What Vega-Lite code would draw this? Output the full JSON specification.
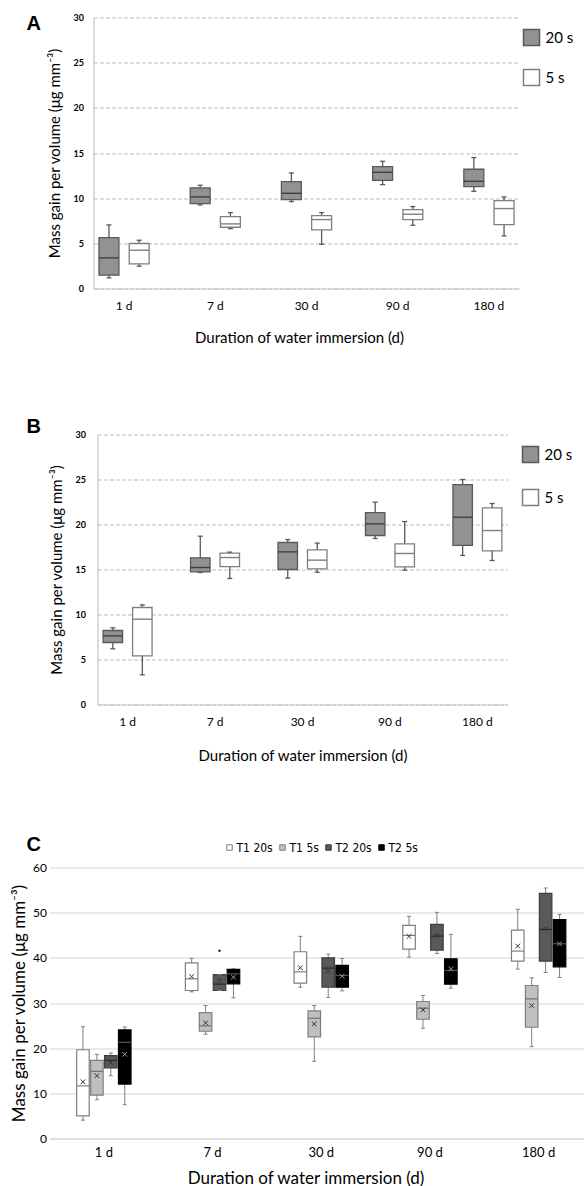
{
  "$schema": "https://vega.github.io/schema/vega-lite/v6.json",
  "background": "white",
  "padding": {"left": 10.5, "top": 13.5, "right": 0, "bottom": 0},
  "config": {
    "view": {"stroke": null},
    "font": "Lato",
    "axis": {"labelColor": "#000000", "titleColor": "#000000", "labelFont": "Lato", "titleFont": "Lato", "titleFontWeight": "normal"},
    "legend": {"labelColor": "#000000", "labelFont": "Lato"}
  },
  "resolve": {
    "scale": {"x": "independent", "y": "independent", "xOffset": "independent", "fill": "independent", "stroke": "independent", "color": "independent"},
    "legend": {"fill": "independent"},
    "axis": {"x": "independent", "y": "independent"}
  },
  "datasets": {
    "A": [
      {"day": "1 d", "group": "20 s", "min": 1.18, "q1": 1.47, "median": 3.39, "q3": 5.64, "max": 7.04},
      {"day": "7 d", "group": "20 s", "min": 9.25, "q1": 9.40, "median": 10.14, "q3": 11.13, "max": 11.43},
      {"day": "30 d", "group": "20 s", "min": 9.62, "q1": 9.84, "median": 10.54, "q3": 11.83, "max": 12.79},
      {"day": "90 d", "group": "20 s", "min": 11.5, "q1": 11.98, "median": 12.86, "q3": 13.49, "max": 14.08},
      {"day": "180 d", "group": "20 s", "min": 10.76, "q1": 11.28, "median": 11.87, "q3": 13.2, "max": 14.49},
      {"day": "1 d", "group": "5 s", "min": 2.47, "q1": 2.73, "median": 4.24, "q3": 4.98, "max": 5.34},
      {"day": "7 d", "group": "5 s", "min": 6.63, "q1": 6.78, "median": 7.15, "q3": 7.96, "max": 8.40},
      {"day": "30 d", "group": "5 s", "min": 4.90, "q1": 6.49, "median": 7.63, "q3": 8.07, "max": 8.40},
      {"day": "90 d", "group": "5 s", "min": 7.0, "q1": 7.63, "median": 8.22, "q3": 8.74, "max": 9.07},
      {"day": "180 d", "group": "5 s", "min": 5.82, "q1": 7.08, "median": 8.85, "q3": 9.73, "max": 10.14}
    ],
    "B": [
      {"day": "1 d", "group": "20 s", "min": 6.19, "q1": 6.89, "median": 7.63, "q3": 8.22, "max": 8.52},
      {"day": "7 d", "group": "20 s", "min": 14.67, "q1": 14.74, "median": 15.22, "q3": 16.3, "max": 18.7},
      {"day": "30 d", "group": "20 s", "min": 14.04, "q1": 15.0, "median": 16.96, "q3": 18.0, "max": 18.33},
      {"day": "90 d", "group": "20 s", "min": 18.44, "q1": 18.78, "median": 20.07, "q3": 21.33, "max": 22.48},
      {"day": "180 d", "group": "20 s", "min": 16.56, "q1": 17.67, "median": 20.81, "q3": 24.44, "max": 25.0},
      {"day": "1 d", "group": "5 s", "min": 3.30, "q1": 5.41, "median": 9.48, "q3": 10.78, "max": 11.07},
      {"day": "7 d", "group": "5 s", "min": 14.0, "q1": 15.33, "median": 16.33, "q3": 16.81, "max": 16.93},
      {"day": "30 d", "group": "5 s", "min": 14.7, "q1": 15.07, "median": 16.04, "q3": 17.19, "max": 17.93},
      {"day": "90 d", "group": "5 s", "min": 14.93, "q1": 15.3, "median": 16.78, "q3": 17.85, "max": 20.33},
      {"day": "180 d", "group": "5 s", "min": 16.0, "q1": 17.07, "median": 19.33, "q3": 21.85, "max": 22.33}
    ],
    "C": [
      {"day": "1 d", "group": "T1 20s", "min": 4.07, "q1": 5.0, "median": 11.65, "q3": 19.65, "max": 24.75, "mean": 12.55},
      {"day": "1 d", "group": "T1 5s", "min": 8.58, "q1": 9.62, "median": 14.87, "q3": 17.31, "max": 18.64, "mean": 13.9},
      {"day": "1 d", "group": "T2 20s", "min": 13.9, "q1": 15.61, "median": 17.31, "q3": 18.34, "max": 18.93, "mean": 16.86},
      {"day": "1 d", "group": "T2 5s", "min": 7.47, "q1": 12.06, "median": 21.3, "q3": 24.04, "max": 24.7, "mean": 18.64},
      {"day": "7 d", "group": "T1 20s", "min": 32.47, "q1": 32.77, "median": 35.36, "q3": 38.9, "max": 39.87, "mean": 35.87},
      {"day": "7 d", "group": "T1 5s", "min": 23.08, "q1": 23.74, "median": 24.93, "q3": 27.88, "max": 29.44, "mean": 25.6},
      {"day": "7 d", "group": "T2 20s", "min": 32.77, "q1": 32.77, "median": 34.17, "q3": 36.3, "max": 36.3, "mean": 34.99},
      {"day": "7 d", "group": "T2 5s", "min": 31.14, "q1": 34.25, "median": 36.46, "q3": 37.43, "max": 37.65, "mean": 35.72},
      {"day": "30 d", "group": "T1 20s", "min": 33.5, "q1": 34.39, "median": 36.9, "q3": 41.35, "max": 44.75, "mean": 37.8},
      {"day": "30 d", "group": "T1 5s", "min": 17.09, "q1": 22.49, "median": 26.63, "q3": 28.25, "max": 29.44, "mean": 25.37},
      {"day": "30 d", "group": "T2 20s", "min": 31.21, "q1": 33.5, "median": 37.72, "q3": 40.0, "max": 40.83, "mean": 36.98},
      {"day": "30 d", "group": "T2 5s", "min": 32.69, "q1": 33.5, "median": 36.1, "q3": 38.31, "max": 39.87, "mean": 35.95},
      {"day": "90 d", "group": "T1 20s", "min": 40.16, "q1": 41.94, "median": 44.97, "q3": 47.19, "max": 49.19, "mean": 44.75},
      {"day": "90 d", "group": "T1 5s", "min": 24.41, "q1": 26.4, "median": 28.85, "q3": 30.33, "max": 31.66, "mean": 28.48},
      {"day": "90 d", "group": "T2 20s", "min": 40.98, "q1": 41.72, "median": 44.82, "q3": 47.41, "max": 50.07, "mean": 44.97},
      {"day": "90 d", "group": "T2 5s", "min": 33.28, "q1": 34.17, "median": 37.2, "q3": 39.79, "max": 45.19, "mean": 37.57},
      {"day": "180 d", "group": "T1 20s", "min": 37.5, "q1": 39.28, "median": 41.5, "q3": 46.15, "max": 50.74, "mean": 42.6},
      {"day": "180 d", "group": "T1 5s", "min": 20.34, "q1": 24.63, "median": 30.92, "q3": 33.88, "max": 35.58, "mean": 29.44},
      {"day": "180 d", "group": "T2 20s", "min": 36.76, "q1": 39.28, "median": 46.3, "q3": 54.29, "max": 55.47, "mean": 46.45},
      {"day": "180 d", "group": "T2 5s", "min": 35.65, "q1": 38.02, "median": 43.12, "q3": 48.45, "max": 49.63, "mean": 43.12}
    ],
    "Cout": [
      {"day": "7 d", "group": "T2 20s", "value": 41.57}
    ]
  },
  "vconcat": [
    {
      "width": 470,
      "height": 271,
      "title": {"text": "A", "anchor": "start", "frame": "group", "dx": -23, "dy": 36, "offset": 0, "baseline": "alphabetic", "font": "Liberation Sans", "fontSize": 20, "fontWeight": "bold", "color": "#000000"},
      "data": {"name": "A"},
      "encoding": {
        "x": {"field": "day", "type": "nominal", "sort": ["1 d", "7 d", "30 d", "90 d", "180 d"], "scale": {"range": [44, 470], "paddingInner": 0.45, "paddingOuter": 0.06}, "title": "Duration of water immersion (d)",
          "axis": {"labelAngle": 0, "ticks": false, "domainColor": "#c4c4c4", "domainWidth": 1.2, "labelFontSize": 12, "labelPadding": 12, "titleFontSize": 15, "titlePadding": 19, "titleX": 249.5}},
        "xOffset": {"field": "group", "type": "nominal", "sort": ["20 s", "5 s"], "scale": {"paddingInner": 0.34, "paddingOuter": 0}}
      },
      "layer": [
        {"mark": {"type": "rule", "color": "#595959", "strokeWidth": 1.3},
          "encoding": {
            "y": {"field": "min", "type": "quantitative", "scale": {"domain": [0, 30], "nice": false}, "title": "Mass gain per volume (μg mm⁻³)",
              "axis": {"offset": -44, "values": [0, 5, 10, 15, 20, 25, 30], "grid": true, "gridDash": [4, 2], "gridColor": "#bdbdbd", "domainColor": "#c4c4c4", "domainWidth": 1.2, "ticks": false, "labelFontSize": 9, "labelFontWeight": "bold", "labelPadding": 10, "titleFontSize": 15, "titlePadding": 11}},
            "y2": {"field": "max"}}},
        {"mark": {"type": "bar", "strokeWidth": 1.3, "opacity": 1},
          "encoding": {
            "y": {"field": "q1", "type": "quantitative", "title": "Mass gain per volume (μg mm⁻³)",
              "axis": {"offset": -44, "values": [0, 5, 10, 15, 20, 25, 30], "grid": true, "gridDash": [4, 2], "gridColor": "#bdbdbd", "domainColor": "#c4c4c4", "domainWidth": 1.2, "ticks": false, "labelFontSize": 9, "labelFontWeight": "bold", "labelPadding": 10, "titleFontSize": 15, "titlePadding": 11}},
            "y2": {"field": "q3"},
            "fill": {"field": "group", "type": "nominal", "scale": {"domain": ["20 s", "5 s"], "range": ["#929292", "#ffffff"]},
              "legend": {"orient": "none", "legendX": 473, "legendY": 11, "title": null, "symbolType": "square", "symbolSize": 256, "symbolStrokeColor": "#595959", "symbolStrokeWidth": 1.5, "labelFontSize": 15, "rowPadding": 18, "labelOffset": 5}},
            "stroke": {"field": "group", "type": "nominal", "scale": {"domain": ["20 s", "5 s"], "range": ["#595959", "#7f7f7f"]}, "legend": null}}},
        {"mark": {"type": "tick", "size": 20, "thickness": 1.4, "opacity": 1},
          "encoding": {
            "y": {"field": "median", "type": "quantitative", "title": "Mass gain per volume (μg mm⁻³)",
              "axis": {"offset": -44, "values": [0, 5, 10, 15, 20, 25, 30], "grid": true, "gridDash": [4, 2], "gridColor": "#bdbdbd", "domainColor": "#c4c4c4", "domainWidth": 1.2, "ticks": false, "labelFontSize": 9, "labelFontWeight": "bold", "labelPadding": 10, "titleFontSize": 15, "titlePadding": 11}},
            "color": {"field": "group", "type": "nominal", "scale": {"domain": ["20 s", "5 s"], "range": ["#404040", "#808080"]}, "legend": null}}},
        {"mark": {"type": "tick", "size": 5, "thickness": 1.3, "opacity": 1, "color": "#595959"},
          "encoding": {"y": {"field": "min", "type": "quantitative", "title": "Mass gain per volume (μg mm⁻³)",
              "axis": {"offset": -44, "values": [0, 5, 10, 15, 20, 25, 30], "grid": true, "gridDash": [4, 2], "gridColor": "#bdbdbd", "domainColor": "#c4c4c4", "domainWidth": 1.2, "ticks": false, "labelFontSize": 9, "labelFontWeight": "bold", "labelPadding": 10, "titleFontSize": 15, "titlePadding": 11}}}},
        {"mark": {"type": "tick", "size": 5, "thickness": 1.3, "opacity": 1, "color": "#595959"},
          "encoding": {"y": {"field": "max", "type": "quantitative", "title": "Mass gain per volume (μg mm⁻³)",
              "axis": {"offset": -44, "values": [0, 5, 10, 15, 20, 25, 30], "grid": true, "gridDash": [4, 2], "gridColor": "#bdbdbd", "domainColor": "#c4c4c4", "domainWidth": 1.2, "ticks": false, "labelFontSize": 9, "labelFontWeight": "bold", "labelPadding": 10, "titleFontSize": 15, "titlePadding": 11}}}}
      ]
    },
    {
      "width": 458,
      "height": 270,
      "title": {"text": "B", "anchor": "start", "frame": "group", "dx": -23, "dy": 22, "offset": 0, "baseline": "alphabetic", "font": "Liberation Sans", "fontSize": 20, "fontWeight": "bold", "color": "#000000"},
      "data": {"name": "B"},
      "encoding": {
        "x": {"field": "day", "type": "nominal", "sort": ["1 d", "7 d", "30 d", "90 d", "180 d"], "scale": {"range": [48, 458], "paddingInner": 0.44, "paddingOuter": 0.064}, "title": "Duration of water immersion (d)",
          "axis": {"labelAngle": 0, "ticks": false, "domainColor": "#c4c4c4", "domainWidth": 1.2, "labelFontSize": 12, "labelPadding": 12, "titleFontSize": 15, "titlePadding": 21}},
        "xOffset": {"field": "group", "type": "nominal", "sort": ["20 s", "5 s"], "scale": {"paddingInner": 0.34, "paddingOuter": 0}}
      },
      "layer": [
        {"mark": {"type": "rule", "color": "#595959", "strokeWidth": 1.3},
          "encoding": {
            "y": {"field": "min", "type": "quantitative", "scale": {"domain": [0, 30], "nice": false}, "title": "Mass gain per volume (μg mm⁻³)",
              "axis": {"offset": -48, "values": [0, 5, 10, 15, 20, 25, 30], "grid": true, "gridDash": [4, 2], "gridColor": "#bdbdbd", "domainColor": "#c4c4c4", "domainWidth": 1.2, "ticks": false, "labelFontSize": 9, "labelFontWeight": "bold", "labelPadding": 12, "titleFontSize": 15, "titlePadding": 11}},
            "y2": {"field": "max"}}},
        {"mark": {"type": "bar", "strokeWidth": 1.3, "opacity": 1},
          "encoding": {
            "y": {"field": "q1", "type": "quantitative", "title": "Mass gain per volume (μg mm⁻³)",
              "axis": {"offset": -48, "values": [0, 5, 10, 15, 20, 25, 30], "grid": true, "gridDash": [4, 2], "gridColor": "#bdbdbd", "domainColor": "#c4c4c4", "domainWidth": 1.2, "ticks": false, "labelFontSize": 9, "labelFontWeight": "bold", "labelPadding": 12, "titleFontSize": 15, "titlePadding": 11}},
            "y2": {"field": "q3"},
            "fill": {"field": "group", "type": "nominal", "scale": {"domain": ["20 s", "5 s"], "range": ["#929292", "#ffffff"]},
              "legend": {"orient": "none", "legendX": 472, "legendY": 11, "title": null, "symbolType": "square", "symbolSize": 256, "symbolStrokeColor": "#595959", "symbolStrokeWidth": 1.5, "labelFontSize": 15, "rowPadding": 21, "labelOffset": 5}},
            "stroke": {"field": "group", "type": "nominal", "scale": {"domain": ["20 s", "5 s"], "range": ["#595959", "#7f7f7f"]}, "legend": null}}},
        {"mark": {"type": "tick", "size": 19.5, "thickness": 1.4, "opacity": 1},
          "encoding": {
            "y": {"field": "median", "type": "quantitative", "title": "Mass gain per volume (μg mm⁻³)",
              "axis": {"offset": -48, "values": [0, 5, 10, 15, 20, 25, 30], "grid": true, "gridDash": [4, 2], "gridColor": "#bdbdbd", "domainColor": "#c4c4c4", "domainWidth": 1.2, "ticks": false, "labelFontSize": 9, "labelFontWeight": "bold", "labelPadding": 12, "titleFontSize": 15, "titlePadding": 11}},
            "color": {"field": "group", "type": "nominal", "scale": {"domain": ["20 s", "5 s"], "range": ["#404040", "#808080"]}, "legend": null}}},
        {"mark": {"type": "tick", "size": 5, "thickness": 1.3, "opacity": 1, "color": "#595959"},
          "encoding": {"y": {"field": "min", "type": "quantitative", "title": "Mass gain per volume (μg mm⁻³)",
              "axis": {"offset": -48, "values": [0, 5, 10, 15, 20, 25, 30], "grid": true, "gridDash": [4, 2], "gridColor": "#bdbdbd", "domainColor": "#c4c4c4", "domainWidth": 1.2, "ticks": false, "labelFontSize": 9, "labelFontWeight": "bold", "labelPadding": 12, "titleFontSize": 15, "titlePadding": 11}}}},
        {"mark": {"type": "tick", "size": 5, "thickness": 1.3, "opacity": 1, "color": "#595959"},
          "encoding": {"y": {"field": "max", "type": "quantitative", "title": "Mass gain per volume (μg mm⁻³)",
              "axis": {"offset": -48, "values": [0, 5, 10, 15, 20, 25, 30], "grid": true, "gridDash": [4, 2], "gridColor": "#bdbdbd", "domainColor": "#c4c4c4", "domainWidth": 1.2, "ticks": false, "labelFontSize": 9, "labelFontWeight": "bold", "labelPadding": 12, "titleFontSize": 15, "titlePadding": 11}}}}
      ]
    },
    {
      "width": 543.5,
      "height": 271,
      "title": {"text": "C", "anchor": "start", "frame": "group", "dx": -23, "dy": 29, "offset": 0, "baseline": "alphabetic", "font": "Liberation Sans", "fontSize": 20, "fontWeight": "bold", "color": "#000000"},
      "encoding": {
        "x": {"field": "day", "type": "nominal", "sort": ["1 d", "7 d", "30 d", "90 d", "180 d"], "scale": {"paddingInner": 0.5, "paddingOuter": 0.25}, "title": "Duration of water immersion (d)",
          "axis": {"labelAngle": 0, "ticks": false, "domainColor": "#dcdcdc", "domainWidth": 1.5, "labelFontSize": 13, "labelPadding": 8, "titleFontSize": 17, "titlePadding": 11, "titleX": 256}},
        "xOffset": {"field": "group", "type": "nominal", "sort": ["T1 20s", "T1 5s", "T2 20s", "T2 5s"], "scale": {"paddingInner": 0.1, "paddingOuter": 0}}
      },
      "layer": [
        {"data": {"name": "C"},
          "mark": {"type": "rule", "color": "#808080", "strokeWidth": 1},
          "encoding": {
            "y": {"field": "min", "type": "quantitative", "scale": {"domain": [0, 60], "nice": false}, "title": "Mass gain per volume (μg mm⁻³)",
              "axis": {"values": [0, 10, 20, 30, 40, 50, 60], "grid": true, "gridColor": "#e3e3e3", "gridWidth": 1.5, "domain": false, "ticks": false, "labelFontSize": 12, "labelPadding": 3, "titleFontSize": 17, "titlePadding": 4}},
            "y2": {"field": "max"}}},
        {"data": {"name": "C"},
          "mark": {"type": "bar", "strokeWidth": 1.2, "opacity": 1},
          "encoding": {
            "y": {"field": "q1", "type": "quantitative", "title": "Mass gain per volume (μg mm⁻³)",
              "axis": {"values": [0, 10, 20, 30, 40, 50, 60], "grid": true, "gridColor": "#e3e3e3", "gridWidth": 1.5, "domain": false, "ticks": false, "labelFontSize": 12, "labelPadding": 3, "titleFontSize": 17, "titlePadding": 4}},
            "y2": {"field": "q3"},
            "fill": {"field": "group", "type": "nominal", "scale": {"domain": ["T1 20s", "T1 5s", "T2 20s", "T2 5s"], "range": ["#ffffff", "#bfbfbf", "#595959", "#000000"]},
              "legend": {"orient": "none", "direction": "horizontal", "legendX": 174, "legendY": -26, "title": null, "symbolType": "square", "symbolSize": 30, "symbolStrokeColor": "#7f7f7f", "symbolStrokeWidth": 1, "labelFont": "Liberation Sans Narrow, DejaVu Sans Condensed, Lato", "labelFontSize": 12, "labelOffset": 1, "columnPadding": 3}},
            "stroke": {"field": "group", "type": "nominal", "scale": {"domain": ["T1 20s", "T1 5s", "T2 20s", "T2 5s"], "range": ["#7f7f7f", "#7f7f7f", "#3f3f3f", "#000000"]}, "legend": null}}},
        {"data": {"name": "C"},
          "mark": {"type": "tick", "size": 12.5, "thickness": 1.2, "opacity": 1},
          "encoding": {
            "y": {"field": "median", "type": "quantitative", "title": "Mass gain per volume (μg mm⁻³)",
              "axis": {"values": [0, 10, 20, 30, 40, 50, 60], "grid": true, "gridColor": "#e3e3e3", "gridWidth": 1.5, "domain": false, "ticks": false, "labelFontSize": 12, "labelPadding": 3, "titleFontSize": 17, "titlePadding": 4}},
            "color": {"field": "group", "type": "nominal", "scale": {"domain": ["T1 20s", "T1 5s", "T2 20s", "T2 5s"], "range": ["#7f7f7f", "#707070", "#262626", "#555555"]}, "legend": null}}},
        {"data": {"name": "C"},
          "mark": {"type": "tick", "size": 4, "thickness": 1, "opacity": 1, "color": "#808080"},
          "encoding": {"y": {"field": "min", "type": "quantitative", "title": "Mass gain per volume (μg mm⁻³)",
              "axis": {"values": [0, 10, 20, 30, 40, 50, 60], "grid": true, "gridColor": "#e3e3e3", "gridWidth": 1.5, "domain": false, "ticks": false, "labelFontSize": 12, "labelPadding": 3, "titleFontSize": 17, "titlePadding": 4}}}},
        {"data": {"name": "C"},
          "mark": {"type": "tick", "size": 4, "thickness": 1, "opacity": 1, "color": "#808080"},
          "encoding": {"y": {"field": "max", "type": "quantitative", "title": "Mass gain per volume (μg mm⁻³)",
              "axis": {"values": [0, 10, 20, 30, 40, 50, 60], "grid": true, "gridColor": "#e3e3e3", "gridWidth": 1.5, "domain": false, "ticks": false, "labelFontSize": 12, "labelPadding": 3, "titleFontSize": 17, "titlePadding": 4}}}},
        {"data": {"name": "C"},
          "transform": [{"filter": "datum.group !== 'T2 5s'"}],
          "mark": {"type": "point", "shape": "M-1,-1L1,1M-1,1L1,-1", "size": 22, "strokeWidth": 1, "filled": false, "opacity": 1, "color": "#333333"},
          "encoding": {"y": {"field": "mean", "type": "quantitative", "title": "Mass gain per volume (μg mm⁻³)",
              "axis": {"values": [0, 10, 20, 30, 40, 50, 60], "grid": true, "gridColor": "#e3e3e3", "gridWidth": 1.5, "domain": false, "ticks": false, "labelFontSize": 12, "labelPadding": 3, "titleFontSize": 17, "titlePadding": 4}}}},
        {"data": {"name": "C"},
          "transform": [{"filter": "datum.group === 'T2 5s'"}],
          "mark": {"type": "point", "shape": "M-1,-1L1,1M-1,1L1,-1", "size": 22, "strokeWidth": 1, "filled": false, "opacity": 1, "color": "#9a9a9a"},
          "encoding": {"y": {"field": "mean", "type": "quantitative", "title": "Mass gain per volume (μg mm⁻³)",
              "axis": {"values": [0, 10, 20, 30, 40, 50, 60], "grid": true, "gridColor": "#e3e3e3", "gridWidth": 1.5, "domain": false, "ticks": false, "labelFontSize": 12, "labelPadding": 3, "titleFontSize": 17, "titlePadding": 4}}}},
        {"data": {"name": "Cout"},
          "mark": {"type": "circle", "size": 6, "opacity": 1, "color": "#222222"},
          "encoding": {"y": {"field": "value", "type": "quantitative", "title": "Mass gain per volume (μg mm⁻³)",
              "axis": {"values": [0, 10, 20, 30, 40, 50, 60], "grid": true, "gridColor": "#e3e3e3", "gridWidth": 1.5, "domain": false, "ticks": false, "labelFontSize": 12, "labelPadding": 3, "titleFontSize": 17, "titlePadding": 4}}}}
      ]
    }
  ],
  "spacing": 71
}
